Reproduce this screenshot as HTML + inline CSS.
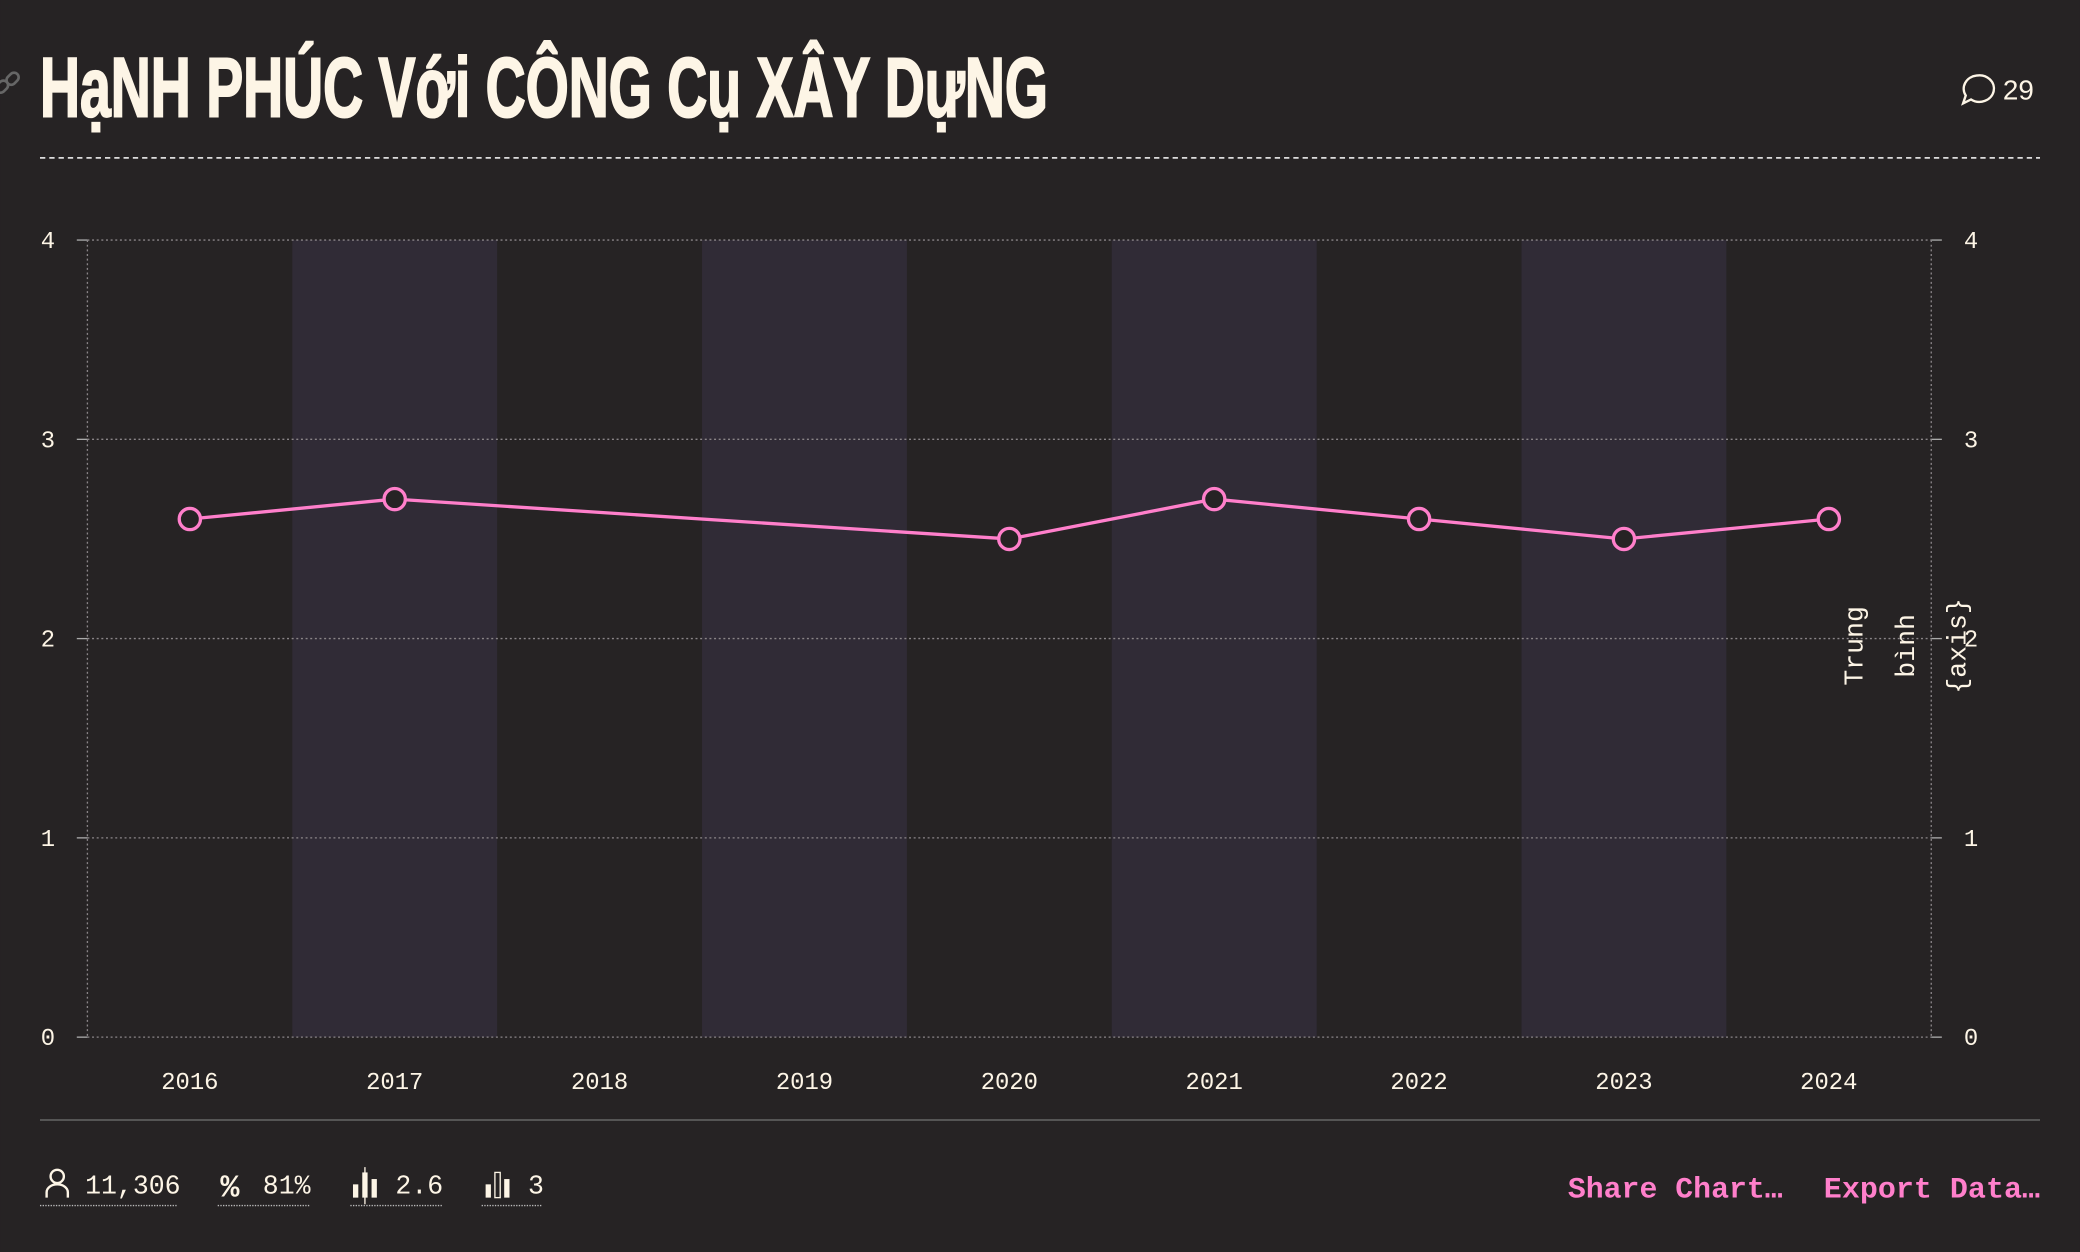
<!DOCTYPE html>
<html><head><meta charset="utf-8"><style>
html,body{margin:0;padding:0;background:#262324;}
svg{display:block;}
text{font-family:"Liberation Mono","DejaVu Sans Mono",monospace;}
</style></head><body>
<svg width="2080" height="1252" viewBox="0 0 1568 944" xmlns="http://www.w3.org/2000/svg">
<rect width="1568" height="944" fill="#262324"/>
<g fill="none" stroke="#666" stroke-width="2">
<rect x="-4" y="62" width="10" height="7" rx="3.5" transform="rotate(-45 1 65)"/>
<rect x="4" y="56" width="10" height="7" rx="3.5" transform="rotate(-45 9 59)"/>
</g>
<text x="30" y="88" font-size="64" fill="#fdf5e6" stroke="#fdf5e6" stroke-width="1.6" font-weight="bold" textLength="760" lengthAdjust="spacingAndGlyphs" style="font-family:'Liberation Sans Narrow','Liberation Sans',sans-serif">HạNH PHÚC Với CÔNG Cụ XÂY DựNG</text>
<g>
<path d="M1490 57 a11 10 0 1 1 -4 18 l-6 3 l2 -6 a11 10 0 0 1 8 -15z" fill="none" stroke="#fdf5e6" stroke-width="1.8"/>
<text x="1510" y="75" font-size="21" fill="#fdf5e6" style="font-family:'Liberation Sans',sans-serif">29</text>
</g>
<line x1="30" y1="119" x2="1538" y2="119" stroke="#ddd" stroke-dasharray="4,3" stroke-width="1.3"/>
<g id="plot"></g>
<g transform="translate(1436,487) rotate(-90)" font-size="20" fill="#fdf5e6" text-anchor="middle">
<text x="0" y="-32">Trung</text><text x="0" y="7">bình</text><text x="0" y="46">{axis}</text>
</g>
<line x1="30" y1="844.5" x2="1538" y2="844.5" stroke="#555" stroke-width="1.5"/>
<g fill="#fdf5e6">
<circle cx="43" cy="887" r="5" fill="none" stroke="#fdf5e6" stroke-width="1.8"/>
<path d="M35 903 v-4 a8 6 0 0 1 16 0 v4" fill="none" stroke="#fdf5e6" stroke-width="1.8"/>
<text x="64" y="900" font-size="20">11,306</text>
<line x1="30" y1="909" x2="134" y2="909" stroke="#bbb" stroke-dasharray="1,1"/>
</g>
<g fill="#fdf5e6">
<text x="166" y="902" font-size="24" font-weight="bold">%</text>
<text x="198" y="900" font-size="20">81%</text>
<line x1="164" y1="909" x2="234" y2="909" stroke="#bbb" stroke-dasharray="1,1"/>
</g>
<g fill="#fdf5e6">
<rect x="266" y="893" width="4" height="10"/><rect x="273" y="884" width="4" height="19"/><rect x="280" y="889" width="4" height="14"/>
<line x1="275" y1="880" x2="275" y2="908" stroke="#fdf5e6"/>
<text x="298" y="900" font-size="20">2.6</text>
<line x1="264" y1="909" x2="333" y2="909" stroke="#bbb" stroke-dasharray="1,1"/>
</g>
<g fill="#fdf5e6">
<rect x="366" y="893" width="4" height="10"/><rect x="373" y="884" width="4" height="19" fill="none" stroke="#fdf5e6"/><rect x="380" y="889" width="4" height="14"/>
<text x="398" y="900" font-size="20">3</text>
<line x1="363" y1="909" x2="409" y2="909" stroke="#bbb" stroke-dasharray="1,1"/>
</g>
<text x="1182" y="903" font-size="22" font-weight="bold" fill="#ff7fcb" textLength="162" lengthAdjust="spacingAndGlyphs">Share Chart…</text>
<text x="1375" y="903" font-size="22" font-weight="bold" fill="#ff7fcb" textLength="163" lengthAdjust="spacingAndGlyphs">Export Data…</text>
</svg>
<script>
const categories=["2016","2017","2018","2019","2020","2021","2022","2023","2024"];
const values=[2.6,2.7,null,null,2.5,2.7,2.6,2.5,2.6];
const yTicks=[0,1,2,3,4];
const NS="http://www.w3.org/2000/svg";
const L=65.75,R=1456,T=181,B=782,yMax=4;
const step=(R-L)/categories.length;
const xs=i=>L+step*(i+0.5);
const ys=v=>B-(v/yMax)*(B-T);
const g=document.getElementById('plot');
function mk(t,a,p){const e=document.createElementNS(NS,t);for(const k in a)e.setAttribute(k,a[k]);(p||g).appendChild(e);return e;}
categories.forEach((c,i)=>{if(i%2===1){const r=mk('rect',{x:L+step*i,y:T,width:step,height:B-T,fill:'#302b36'});

}});
yTicks.forEach(v=>{const y=ys(v);
const gl=mk('line',{x1:L,x2:R,y1:y,y2:y,stroke:'#8a8588','stroke-dasharray':'1.5,2','stroke-width':1});


mk('line',{x1:L-8,x2:L,y1:y,y2:y,stroke:'#aaa'});mk('line',{x1:R,x2:R+8,y1:y,y2:y,stroke:'#aaa'});
const a=mk('text',{x:36,y:y+6,'font-size':18,fill:'#fdf5e6','text-anchor':'middle'});a.textContent=v;


const b=mk('text',{x:1486,y:y+6,'font-size':18,fill:'#fdf5e6','text-anchor':'middle'});b.textContent=v;

});
mk('line',{x1:L,x2:L,y1:T,y2:B,stroke:'#8a8588','stroke-dasharray':'1.5,2'});
mk('line',{x1:R,x2:R,y1:T,y2:B,stroke:'#8a8588','stroke-dasharray':'1.5,2'});
categories.forEach((c,i)=>{const t=mk('text',{x:xs(i),y:821,'font-size':18,fill:'#fdf5e6','text-anchor':'middle'});t.textContent=c;

});
const pts=values.map((v,i)=>v==null?null:[xs(i),ys(v)]).filter(p=>p);
const line=mk('polyline',{points:pts.map(p=>p.join(',')).join(' '),fill:'none',stroke:'#ff7fcb','stroke-width':2.5});


values.forEach((v,i)=>{if(v==null)return;const c=mk('circle',{cx:xs(i),cy:ys(v),r:8,fill:'#262324',stroke:'#ff7fcb','stroke-width':2.5});

});
</script>
</body></html>
